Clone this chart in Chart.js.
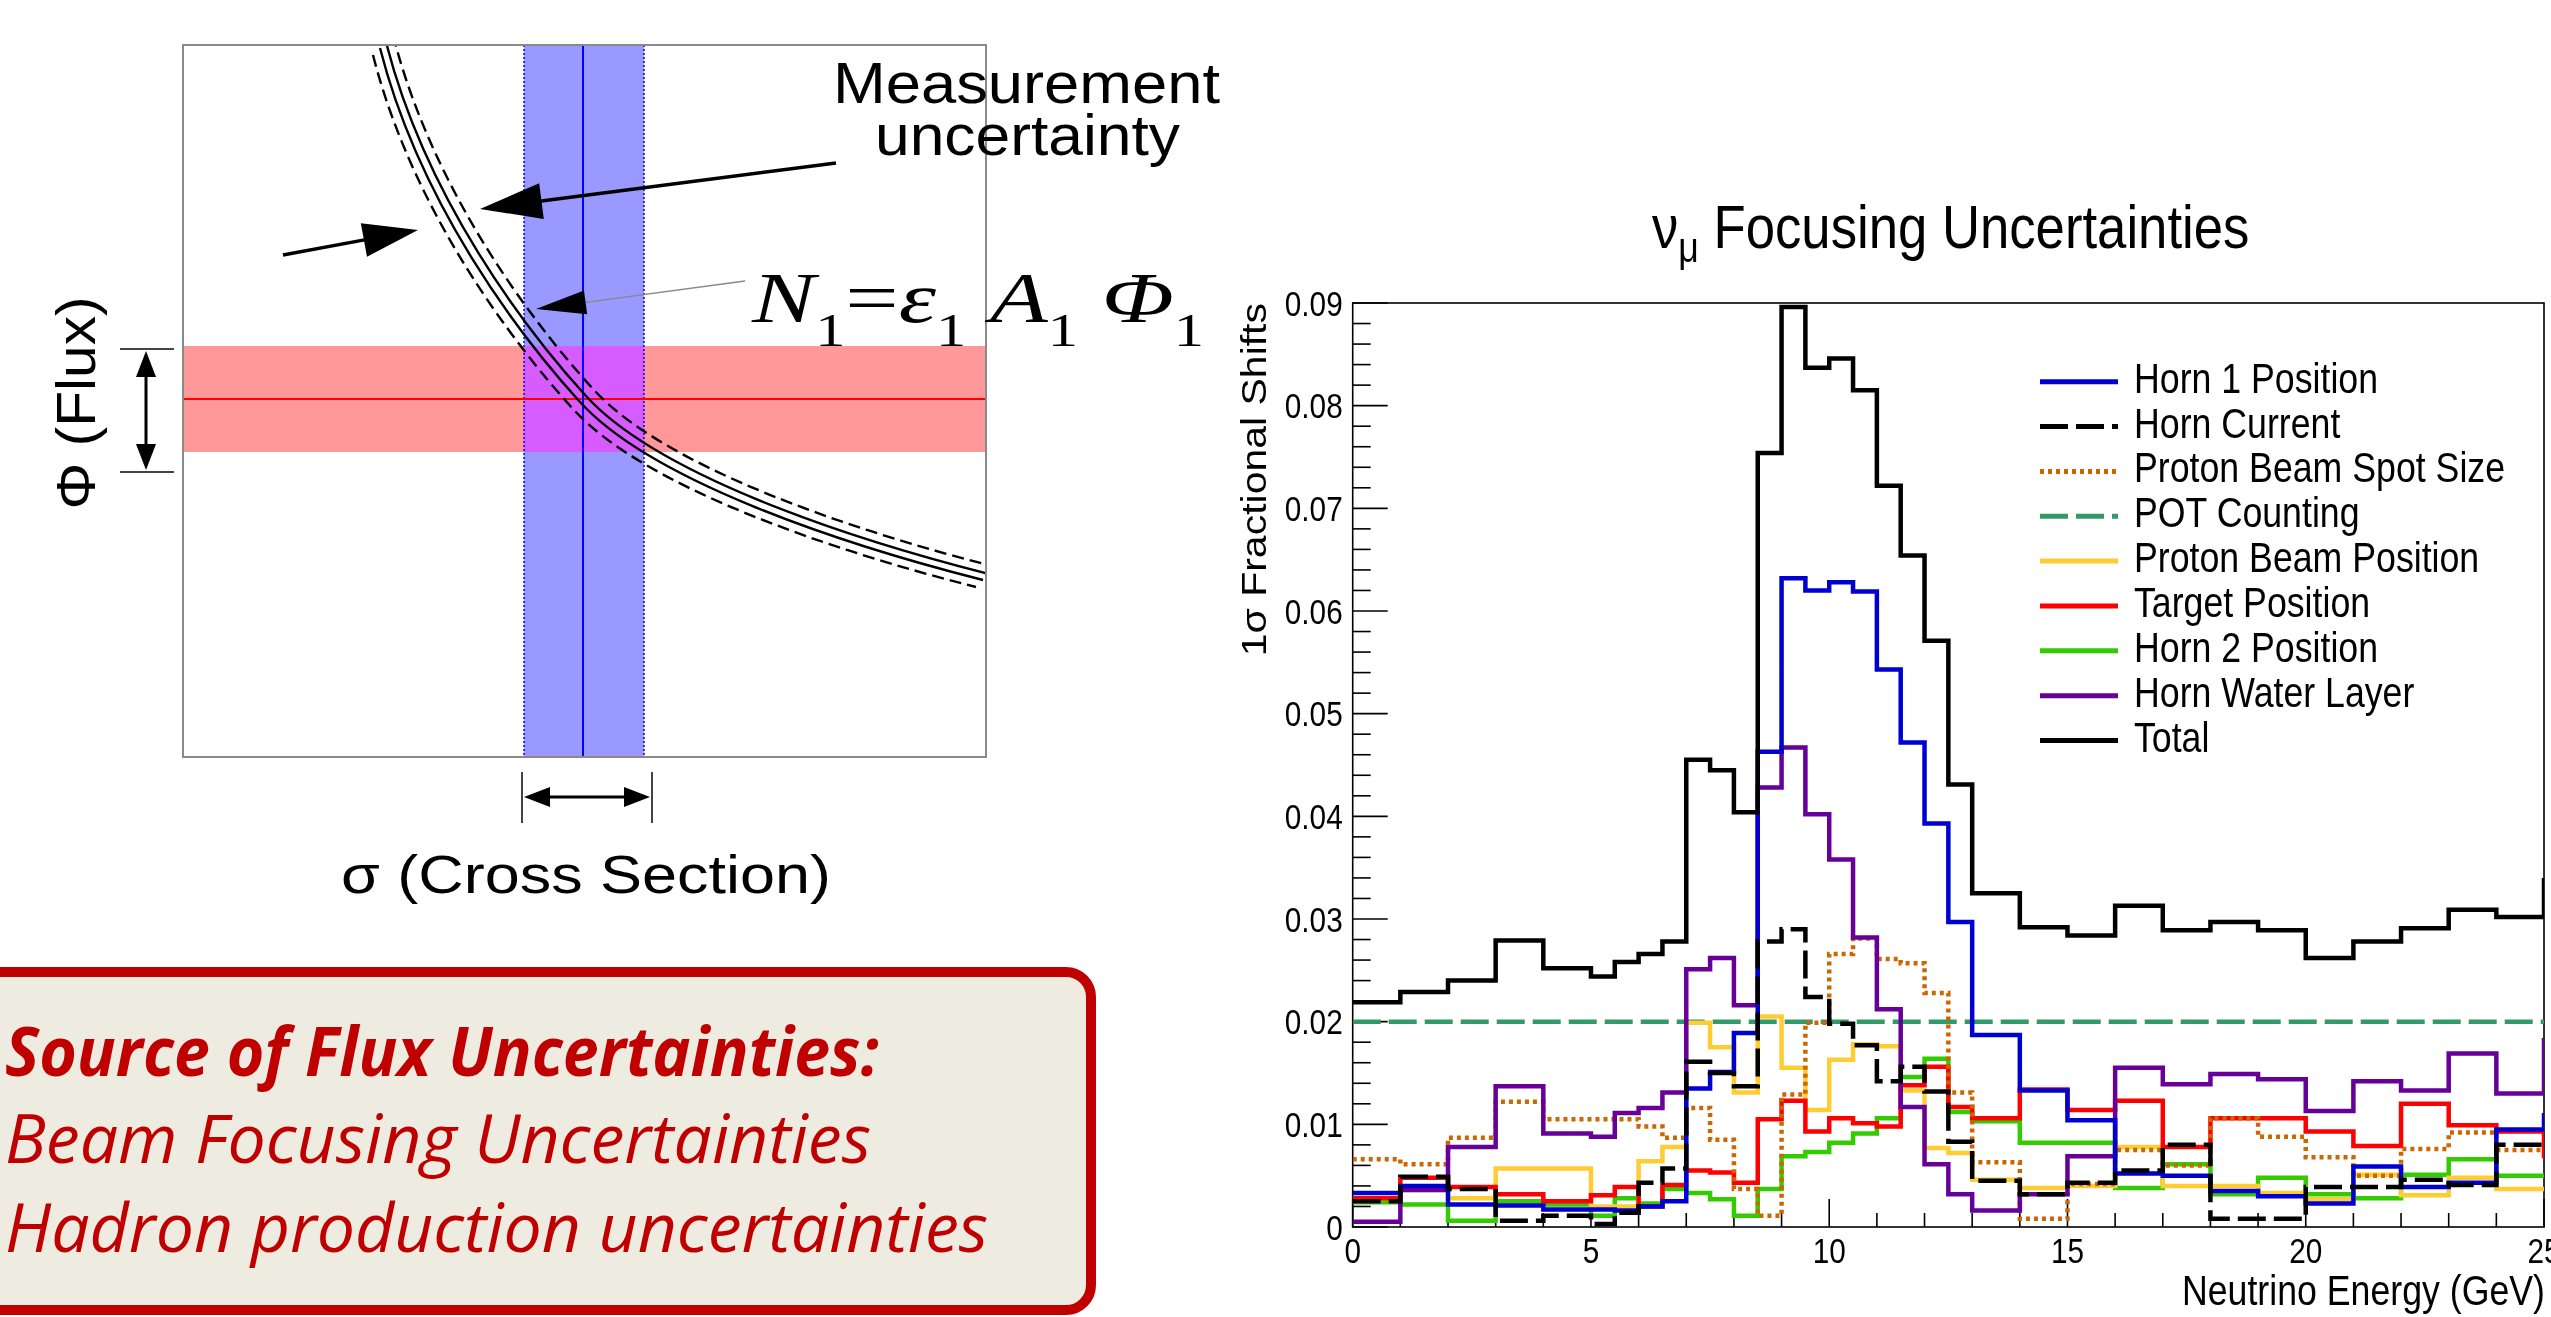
<!DOCTYPE html>
<html><head><meta charset="utf-8">
<script src="https://cdn.jsdelivr.net/npm/chart.js"></script>
<style>
html,body{margin:0;padding:0;background:#fff;width:2551px;height:1317px;overflow:hidden;}
#wrap{position:relative;width:2551px;height:1317px;overflow:hidden;background:#fff;}
#c{position:absolute;left:1180px;top:0;width:1431px;height:1360px;}
#ov{position:absolute;left:0;top:0;}
text{font-family:"Liberation Sans",Arial,sans-serif;}
</style></head><body>
<div id="wrap">
<canvas id="c" width="1431" height="1360"></canvas>
<svg id="ov" xmlns="http://www.w3.org/2000/svg" width="2551" height="1317">
 <defs><clipPath id="boxclip"><rect x="183" y="45" width="803" height="712"/></clipPath></defs>
 <rect x="183" y="45" width="803" height="712" fill="#fff"/>
 <rect x="183" y="346" width="803" height="106" fill="#ff9999"/>
 <rect x="524" y="45" width="120" height="712" fill="#9999ff"/>
 <rect x="524" y="346" width="120" height="106" fill="#d65cff"/>
 <line x1="524" y1="45" x2="524" y2="757" stroke="#0000ff" stroke-width="1.5" stroke-dasharray="2 2"/>
 <line x1="644" y1="45" x2="644" y2="757" stroke="#0000ff" stroke-width="1.5" stroke-dasharray="2 2"/>
 <line x1="183" y1="399" x2="986" y2="399" stroke="#ff0000" stroke-width="2"/>
 <line x1="583" y1="45" x2="583" y2="757" stroke="#0000ff" stroke-width="2"/>
 <g clip-path="url(#boxclip)" fill="none" stroke="#000" stroke-width="2.4">
  <path d="M383,45 C423,202 523,333 583,399 C653,476 836,539 986,577" transform="translate(-3,3)"/>
  <path d="M383,45 C423,202 523,333 583,399 C653,476 836,539 986,577" transform="translate(3,-3)"/>
  <path d="M383,45 C423,202 523,333 583,399 C653,476 836,539 986,577" transform="translate(-10,10)" stroke-dasharray="12 6"/>
  <path d="M383,45 C423,202 523,333 583,399 C653,476 836,539 986,577" transform="translate(10,-10)" stroke-dasharray="12 6"/>
 </g>
 <rect x="183" y="45" width="803" height="712" fill="none" stroke="#8a8a8a" stroke-width="2"/>
 <g id="arrows"></g>
 <line x1="120" y1="349" x2="174" y2="349" stroke="#444" stroke-width="2"/>
 <line x1="120" y1="472" x2="174" y2="472" stroke="#444" stroke-width="2"/>
 <line x1="522" y1="772" x2="522" y2="823" stroke="#444" stroke-width="2"/>
 <line x1="652" y1="772" x2="652" y2="823" stroke="#444" stroke-width="2"/>
 <text x="833" y="103" font-size="57" textLength="387" lengthAdjust="spacingAndGlyphs">Measurement</text>
 <text x="875" y="155" font-size="57" textLength="305" lengthAdjust="spacingAndGlyphs">uncertainty</text>
 <text x="752" y="322" font-size="72" font-style="italic" textLength="452" lengthAdjust="spacingAndGlyphs" style="font-family:'Liberation Serif','DejaVu Serif',serif">N<tspan dy="24" font-size="46" font-style="normal">1</tspan><tspan dy="-24" font-style="normal">=</tspan><tspan>ε</tspan><tspan dy="24" font-size="46" font-style="normal">1</tspan><tspan dy="-24"> A</tspan><tspan dy="24" font-size="46" font-style="normal">1</tspan><tspan dy="-24"> Φ</tspan><tspan dy="24" font-size="46" font-style="normal">1</tspan></text>
 <text transform="translate(95,403) rotate(-90)" text-anchor="middle" font-size="56" textLength="213" lengthAdjust="spacingAndGlyphs">Φ (Flux)</text>
 <text x="586" y="893" text-anchor="middle" font-size="54" textLength="490" lengthAdjust="spacingAndGlyphs">σ (Cross Section)</text>

 <rect x="-30" y="972" width="1121" height="338" rx="25" ry="25" fill="#eeebe0" stroke="#c00000" stroke-width="10"/>
 <text x="5" y="1076" font-size="68" font-weight="bold" font-style="italic" fill="#c00000" textLength="874" lengthAdjust="spacingAndGlyphs" style="font-family:'Open Sans','Noto Sans',sans-serif">Source of Flux Uncertainties:</text>
 <text x="5" y="1163" font-size="68" font-style="italic" fill="#c00000" textLength="866" lengthAdjust="spacingAndGlyphs" style="font-family:'Open Sans','Noto Sans',sans-serif">Beam Focusing Uncertainties</text>
 <text x="5" y="1252" font-size="68" font-style="italic" fill="#c00000" textLength="983" lengthAdjust="spacingAndGlyphs" style="font-family:'Open Sans','Noto Sans',sans-serif">Hadron production uncertainties</text>

 <text transform="translate(1652,248) scale(0.85,1)" font-size="62">ν<tspan dy="14" font-size="42">μ</tspan><tspan dy="-14"> Focusing Uncertainties</tspan></text>
 <text transform="translate(1266,303) rotate(-90) scale(1,0.85)" text-anchor="end" font-size="41">1σ Fractional Shifts</text>
 <text transform="translate(2545,1305) scale(0.85,1)" text-anchor="end" font-size="42">Neutrino Energy (GeV)</text>
 <g id="legend"></g>
</svg>
</div>
<script>
// ---- data (fractional shifts per energy bin) ----
const binEdges = [0,1,2,3,4,5,5.5,6,6.5,7,7.5,8,8.5,9,9.5,10,10.5,11,11.5,12,12.5,13,14,15,16,17,18,19,20,21,22,23,24,25,26];
const horn1Position = [0.0033,0.0040,0.0022,0.0021,0.0017, 0.0017,0.0016,0.0020,0.0025,0.0135,0.0151,0.0189,0.0463,0.0632,0.0620,0.0628,0.0619,0.0543,0.0472,0.0393,0.0297, 0.0187,0.0133,0.0104,0.0052,0.0050,0.0035,0.0030,0.0023,0.0059,0.0039,0.0043,0.0095, 0.0111];
const hornCurrent = [0.0025,0.0049,0.0037,0.0006,0.0011, 0.0003,0.0014,0.0043,0.0057,0.0161,0.0150,0.0137,0.0278,0.0290,0.0224,0.0198,0.0177,0.0142,0.0156,0.0132,0.0083, 0.0045,0.0032,0.0043,0.0055,0.0080,0.0008,0.0008,0.0039,0.0039,0.0046,0.0041,0.0080, 0.0080];
const beamSpotSize = [0.0066,0.0061,0.0087,0.0122,0.0105, 0.0105,0.0105,0.0098,0.0087,0.0116,0.0085,0.0037,0.0011,0.0129,0.0199,0.0266,0.0281,0.0261,0.0257,0.0228,0.0131, 0.0063,0.0008,0.0042,0.0075,0.0060,0.0106,0.0088,0.0068,0.0050,0.0076,0.0092,0.0075, 0.0075];
const potCounting = [0.02,0.02,0.02,0.02,0.02, 0.02,0.02,0.02,0.02,0.02,0.02,0.02,0.02,0.02,0.02,0.02,0.02,0.02,0.02,0.02,0.02, 0.02,0.02,0.02,0.02,0.02,0.02,0.02,0.02,0.02,0.02,0.02,0.02, 0.02];
const beamPosition = [0.0028,0.0036,0.0028,0.0057,0.0057, 0.0020,0.0020,0.0064,0.0078,0.0199,0.0175,0.0131,0.0205,0.0155,0.0114,0.0163,0.0178,0.0176,0.0133,0.0077,0.0072, 0.0046,0.0038,0.0040,0.0078,0.0040,0.0040,0.0033,0.0027,0.0051,0.0031,0.0048,0.0037, 0.0037];
const targetPosition = [0.0028,0.0048,0.0039,0.0032,0.0025, 0.0031,0.0039,0.0020,0.0041,0.0055,0.0053,0.0043,0.0105,0.0123,0.0093,0.0106,0.0101,0.0098,0.0138,0.0156,0.0117, 0.0106,0.0134,0.0114,0.0123,0.0078,0.0106,0.0106,0.0093,0.0079,0.0120,0.0099,0.0093, 0.0067];
const horn2Position = [0.0024,0.0022,0.0006,0.0025,0.0022, 0.0011,0.0028,0.0023,0.0037,0.0033,0.0027,0.0011,0.0037,0.0069,0.0073,0.0082,0.0091,0.0106,0.0146,0.0164,0.0112, 0.0103,0.0082,0.0082,0.0038,0.0061,0.0032,0.0048,0.0032,0.0028,0.0051,0.0066,0.0050, 0.0050];
const hornWaterLayer = [0.0005,0.0036,0.0078,0.0137,0.0091, 0.0088,0.0111,0.0116,0.0131,0.0251,0.0262,0.0216,0.0428,0.0467,0.0402,0.0358,0.0282,0.0212,0.0117,0.0061,0.0032, 0.0016,0.0032,0.0069,0.0155,0.0139,0.0149,0.0144,0.0113,0.0142,0.0133,0.0169,0.0130, 0.0184];
const totalShift = [0.0219,0.0229,0.0240,0.0279,0.0252, 0.0244,0.0258,0.0266,0.0278,0.0455,0.0445,0.0404,0.0754,0.0896,0.0837,0.0846,0.0815,0.0722,0.0654,0.0571,0.0431, 0.0325,0.0292,0.0284,0.0313,0.0289,0.0297,0.0289,0.0262,0.0278,0.0291,0.0309,0.0302, 0.0340];

const seriesNames = ['Horn 1 Position','Horn Current','Proton Beam Spot Size','POT Counting','Proton Beam Position','Target Position','Horn 2 Position','Horn Water Layer','Total'];
const seriesValues = [horn1Position,hornCurrent,beamSpotSize,potCounting,beamPosition,targetPosition,horn2Position,hornWaterLayer,totalShift];
const seriesColors = ['#0000d0','#000000','#cc6600','#339966','#ffcc33','#ff0000','#33cc00','#660099','#000000'];
const seriesDashes = [[],[28,8],[4,4],[28,8],[],[],[],[],[]];
const drawOrder = [2,1,4,8,6,5,7,3,0];

const xTickValues = [0,5,10,15,20,25];
const xTickLabels = ['0','5','10','15','20','25'];
const yTickValues = [0,0.01,0.02,0.03,0.04,0.05,0.06,0.07,0.08,0.09];
const yTickLabels = ['0','0.01','0.02','0.03','0.04','0.05','0.06','0.07','0.08','0.09'];
const xMinorStep = 1, yMinorStep = 0.002;

function histPoints(vals){
  const pts = vals.map((v,i)=>({x:binEdges[i], y:v}));
  pts.push({x:binEdges[vals.length], y:vals[vals.length-1]});
  return pts;
}

const axisDecor = {
  id:'axisDecor',
  beforeDatasetsDraw(chart){
    const {ctx, chartArea:a, scales:{x,y}} = chart;
    ctx.save();
    ctx.strokeStyle='#000'; ctx.lineWidth=1.6;
    const nY = Math.round(0.09/yMinorStep);
    for(let k=0;k<=nY;k++){
      const py = y.getPixelForValue(k*yMinorStep);
      const len = (k%5===0)?35:18;
      ctx.beginPath(); ctx.moveTo(a.left,py); ctx.lineTo(a.left+len,py); ctx.stroke();
    }
    const nX = Math.round(25/xMinorStep);
    for(let k=0;k<=nX;k++){
      const px = x.getPixelForValue(k*xMinorStep);
      const len = (k%5===0)?28:14;
      ctx.beginPath(); ctx.moveTo(px,a.bottom); ctx.lineTo(px,a.bottom-len); ctx.stroke();
    }
    ctx.strokeRect(a.left,a.top,a.right-a.left,a.bottom-a.top);
    ctx.restore();
  },
  afterDraw(chart){
    const {ctx, chartArea:a, scales:{x,y}} = chart;
    ctx.save();
    ctx.fillStyle='#000';
    ctx.font='35px "Liberation Sans", Arial, sans-serif';
    ctx.textBaseline='alphabetic';
    yTickValues.forEach((v,i)=>{
      const py=y.getPixelForValue(v);
      ctx.save(); ctx.translate(a.left-10,py+12.5); ctx.scale(0.85,1);
      ctx.textAlign='right'; ctx.fillText(yTickLabels[i],0,0); ctx.restore();
    });
    xTickValues.forEach((v,i)=>{
      const px=x.getPixelForValue(v);
      ctx.save(); ctx.translate(px,a.bottom+36); ctx.scale(0.85,1);
      ctx.textAlign='center'; ctx.fillText(xTickLabels[i],0,0); ctx.restore();
    });
    ctx.restore();
  }
};

new Chart(document.getElementById('c'),{
  type:'line',
  data:{datasets:seriesNames.map((n,i)=>({
    label:n, data:histPoints(seriesValues[i]), borderColor:seriesColors[i], backgroundColor:'transparent',
    borderWidth:4.5, borderDash:seriesDashes[i], stepped:true, pointRadius:0, pointHoverRadius:0, fill:false,
    order:drawOrder[i], borderCapStyle:'butt', borderJoinStyle:'miter', tension:0
  }))},
  options:{
    responsive:false, animation:false, events:[],
    layout:{padding:{left:0,right:67,top:303,bottom:43}},
    plugins:{legend:{display:false},tooltip:{enabled:false},title:{display:false}},
    scales:{
      x:{type:'linear',min:0,max:25,ticks:{display:false,stepSize:5},grid:{display:false,drawTicks:false},border:{display:false},afterFit(s){s.height=90;}},
      y:{type:'linear',min:0,max:0.09,ticks:{display:false,stepSize:0.01},grid:{display:false,drawTicks:false},border:{display:false},afterFit(s){s.width=172.7;}}
    }
  },
  plugins:[axisDecor]
});

// ---- legend (built from the series definitions) ----
const NS='http://www.w3.org/2000/svg';
const lg=document.getElementById('legend');
seriesNames.forEach((n,i)=>{
  const yy=381.7+i*44.85;
  const l=document.createElementNS(NS,'line');
  l.setAttribute('x1',2040); l.setAttribute('x2',2118); l.setAttribute('y1',yy); l.setAttribute('y2',yy);
  l.setAttribute('stroke',seriesColors[i]); l.setAttribute('stroke-width',5);
  if(seriesDashes[i].length) l.setAttribute('stroke-dasharray',seriesDashes[i].join(' '));
  lg.appendChild(l);
  const t=document.createElementNS(NS,'text');
  t.setAttribute('transform',`translate(2134,${yy+11}) scale(0.85,1)`);
  t.setAttribute('font-size',42); t.textContent=n; lg.appendChild(t);
});

// ---- schematic arrows ----
const ag=document.getElementById('arrows');
function arrow(x1,y1,x2,y2,w,head,half,lineColor,two){
  const dx=x2-x1,dy=y2-y1,L=Math.hypot(dx,dy),ux=dx/L,uy=dy/L;
  const bx=x2-ux*head,by=y2-uy*head;
  let sx=x1,sy=y1;
  if(two){sx=x1+ux*head;sy=y1+uy*head;}
  const ln=document.createElementNS(NS,'line');
  ln.setAttribute('x1',sx);ln.setAttribute('y1',sy);ln.setAttribute('x2',bx+ux*2);ln.setAttribute('y2',by+uy*2);
  ln.setAttribute('stroke',lineColor);ln.setAttribute('stroke-width',w);ag.appendChild(ln);
  const addHead=(tx,ty,bx,by)=>{const p=document.createElementNS(NS,'polygon');
    p.setAttribute('points',`${tx},${ty} ${bx-uy*half},${by+ux*half} ${bx+uy*half},${by-ux*half}`);p.setAttribute('fill','#000');ag.appendChild(p);};
  addHead(x2,y2,bx,by);
  if(two) addHead(x1,y1,sx,sy);
}
arrow(836,163,480,209,3.5,62,18,'#000',false);
arrow(283,255,418,230,3.5,55,17,'#000',false);
arrow(745,281,536,309,1.5,50,12,'#888',false);
arrow(146,351,146,470,3,26,10,'#000',true);
arrow(524,797,650,797,3,26,10,'#000',true);
</script>
</body></html>
